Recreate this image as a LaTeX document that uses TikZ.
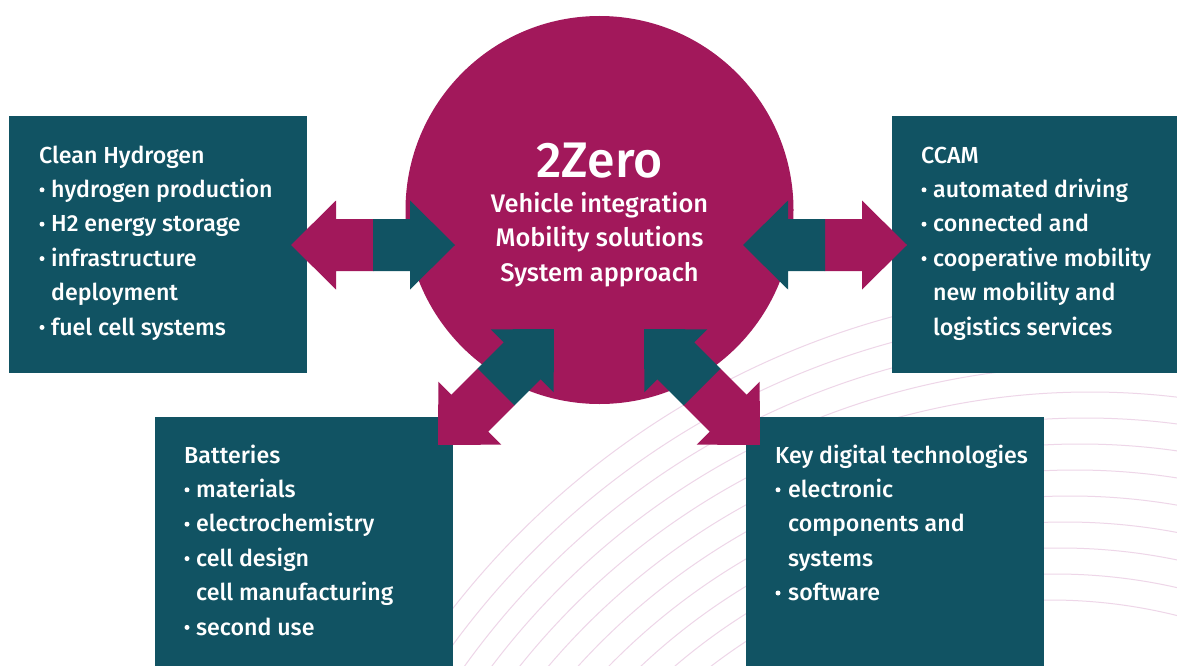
\documentclass[tikz,border=0pt]{standalone}
\usepackage{fontspec}
\setmainfont{Fira Sans}[UprightFont=* Medium]
\definecolor{tealbox}{RGB}{17,83,99}
\definecolor{mag}{RGB}{162,24,91}
\definecolor{bgline}{RGB}{238,214,232}
\newcommand\mylines[5]{%
  \foreach \kind/\txt [count=\k from 0] in {#5} {
    \pgfmathsetmacro\yy{#4+34.4*\k}
    \ifnum\kind=0
      \node[txt] (#1-t\k) at (#2,\yy) {\txt};
    \else
      \node[txt] (#1-t\k) at (#3,\yy) {\txt};
      \ifnum\kind=1
        \node[dot] (#1-d\k) at (#2+3,\yy-7.6) {};
      \fi
    \fi
  }}
\newcommand\dblarrow[2]{%
  \begin{scope}[shift={#1}, rotate=#2]
    \fill[mag] (-82,0) -- (-37,44.5) -- (-37,26) -- (0.5,26) -- (0.5,-26) -- (-37,-26) -- (-37,-44.5) -- cycle;
    \fill[tealbox] (82,0) -- (37,44.5) -- (37,26) -- (0,26) -- (0,-26) -- (37,-26) -- (37,-44.5) -- cycle;
  \end{scope}}
\begin{document}
\begin{tikzpicture}[x=1pt,y=-1pt,
  box/.style={fill=tealbox, draw=none, inner sep=0, anchor=north west},
  txt/.style={anchor=base west, inner sep=0, text=white, font=\fontsize{23.2}{28}\selectfont},
  ctxt/.style={anchor=base, inner sep=0, text=white, font=\fontsize{25.4}{28}\selectfont},
  big/.style={anchor=base, inner sep=0, text=white, font=\fontsize{50}{52}\selectfont},
  dot/.style={circle, fill=white, inner sep=0, minimum size=5pt},
]
\path[use as bounding box] (0,0) rectangle (1177,666);
\fill[white] (0,0) rectangle (1177,666);
\begin{scope}
  \clip (0,0) rectangle (1177,666);
  \foreach \i in {0,...,12} {
    \draw[bgline, line width=1pt] ({1110-5*\i},1122) circle [radius={834pt-\i*26pt}];
  }
\end{scope}
% boxes
\node[box, minimum width=298pt, minimum height=257pt] (hyd) at (9,116) {};
\node[box, minimum width=285pt, minimum height=257pt] (ccam) at (892,116) {};
\node[box, minimum width=298pt, minimum height=249pt] (bat) at (155,417) {};
\node[box, minimum width=298pt, minimum height=249pt] (kdt) at (746,417) {};
% hub
\node[circle, fill=mag, minimum size=388pt, inner sep=0] (hub) at (599.5,210) {};
\node[big] (zero) at (599.5,177) {2Zero};
\node[ctxt] (l1) at (599.5,212) {Vehicle integration};
\node[ctxt] (l2) at (599.5,246.5) {Mobility solutions};
\node[ctxt] (l3) at (599.5,281) {System approach};
% arrows
\dblarrow{(373,245)}{0}
\dblarrow{(825,245)}{180}
\dblarrow{(496,387)}{45}
\dblarrow{(702,387)}{135}
% texts
\mylines{hy}{39}{51}{163}{0/Clean Hydrogen,1/hydrogen production,1/H2 energy storage,1/infrastructure,2/deployment,1/fuel cell systems}
\mylines{cc}{921}{933}{163}{0/CCAM,1/automated driving,1/connected and,1/cooperative mobility,2/new mobility and,2/logistics services}
\mylines{ba}{184}{196}{463}{0/Batteries,1/materials,1/electrochemistry,1/cell design,2/cell manufacturing,1/second use}
\mylines{kd}{775}{788}{463}{0/Key digital technologies,1/electronic,2/components and,2/systems,1/software}
\end{tikzpicture}
\end{document}
